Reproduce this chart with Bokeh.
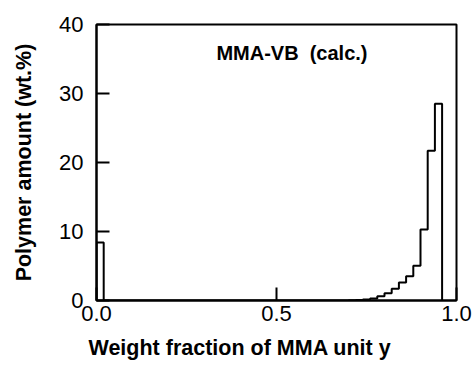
from bokeh.plotting import figure
from bokeh.models import Range1d, FixedTicker, Label, Title
from bokeh.embed import file_html
from bokeh.resources import INLINE

# Histogram classes of MMA weight fraction (class width 0.02) and polymer amount (wt.%)
bin_width = 0.02
class_left = [0.00, 0.70, 0.72, 0.74, 0.76, 0.78, 0.80, 0.82, 0.84, 0.86, 0.88, 0.90, 0.92, 0.94]
amount = [8.4, 0.04, 0.08, 0.15, 0.3, 0.6, 1.05, 1.7, 2.6, 3.5, 5.05, 10.3, 21.7, 28.5]

x_ticks = [0.0, 0.5, 1.0]
x_tick_labels = ["0.0", "0.5", "1.0"]
y_ticks = [0, 10, 20, 30, 40]

FONT = "Liberation Sans"

# Build a step outline over the whole range, zero where no class is listed
n_bins = int(round(0.96 / bin_width))
heights = [0.0] * n_bins
for left, a in zip(class_left, amount):
    heights[int(round(left / bin_width))] = a
edges = [i * bin_width for i in range(n_bins + 1)]
step_x = [edges[0]] + edges
step_y = [0.0] + heights + [0.0]

p = figure(width=473, height=372, output_backend="svg", toolbar_location=None,
           x_range=Range1d(0, 1), y_range=Range1d(0, 40),
           min_border_left=96, min_border_right=17, min_border_top=24, min_border_bottom=72)

p.step(step_x, step_y, mode="after", line_color="black", line_width=2)

p.xgrid.visible = False
p.ygrid.visible = False
p.background_fill_color = "white"
p.border_fill_color = "white"
p.outline_line_color = "black"
p.outline_line_width = 2

for ax in (p.xaxis[0], p.yaxis[0]):
    ax.axis_line_width = 2
    ax.axis_line_color = "black"
    ax.major_tick_in = 13
    ax.major_tick_out = 0
    ax.major_tick_line_width = 2
    ax.minor_tick_line_color = None
    ax.major_label_text_font = FONT
    ax.major_label_text_font_size = "22px"
    ax.major_label_text_color = "black"
    ax.axis_label_text_font = FONT
    ax.axis_label_text_font_style = "bold"
    ax.axis_label_text_font_size = "21.5px"
    ax.axis_label_text_color = "black"

p.xaxis.ticker = FixedTicker(ticks=x_ticks)
p.xaxis.major_label_overrides = {t: s for t, s in zip(x_ticks, x_tick_labels)}
p.xaxis.major_label_standoff = 5

p.yaxis.ticker = FixedTicker(ticks=y_ticks)
p.yaxis.major_label_standoff = 13
p.yaxis.axis_label = "Polymer amount (wt.%)"
p.yaxis.axis_label_standoff = 20

# x-axis title, set a little left of the frame so it centres under the whole figure
p.add_layout(Title(text="Weight fraction of MMA unit y", align="left", offset=-8,
                   standoff=20, text_font=FONT, text_font_style="bold",
                   text_font_size="21.5px", text_color="black"), "below")

p.add_layout(Label(x=0.333, y=34.3, text="MMA-VB\u00a0\u00a0(calc.)", text_font=FONT,
                   text_font_style="bold", text_font_size="20px", text_color="black",
                   text_baseline="bottom"))

open("out.html", "w").write(file_html(p, INLINE))
